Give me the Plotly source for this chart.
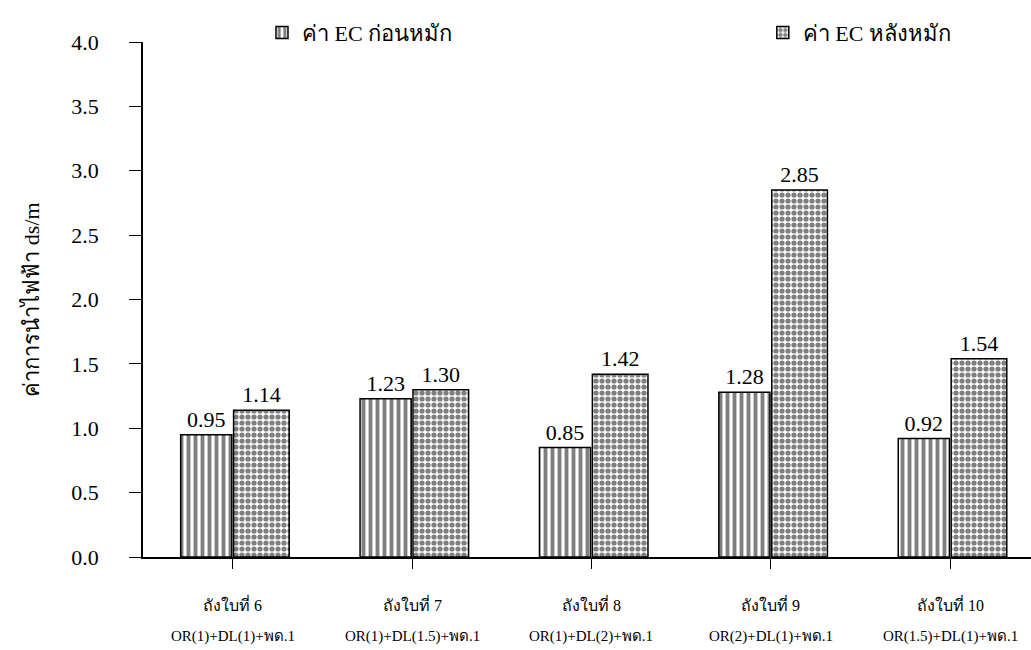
import plotly.graph_objects as go

# Tank labels and treatment formulas shown under each group
tanks = ["ถังใบที่ 6", "ถังใบที่ 7", "ถังใบที่ 8", "ถังใบที่ 9", "ถังใบที่ 10"]
formulas = ["OR(1)+DL(1)+พด.1", "OR(1)+DL(1.5)+พด.1", "OR(1)+DL(2)+พด.1",
            "OR(2)+DL(1)+พด.1", "OR(1.5)+DL(1)+พด.1"]

# EC values (ds/m)
ec_before = [0.95, 1.23, 0.85, 1.28, 0.92]
ec_after = [1.14, 1.30, 1.42, 2.85, 1.54]

series_names = ["ค่า EC ก่อนหมัก", "ค่า EC หลังหมัก"]
y_ticks = [0.0, 0.5, 1.0, 1.5, 2.0, 2.5, 3.0, 3.5, 4.0]

SERIF = "Liberation Serif, Times New Roman, serif"
xpos = list(range(len(tanks)))

fig = go.Figure()
fig.add_trace(go.Bar(
    x=xpos, y=ec_before, name=series_names[0], legend="legend",
    width=0.285, offset=-0.29,
    marker=dict(color="white",
                line=dict(color="black", width=1.5),
                pattern=dict(shape="|", fgcolor="black", bgcolor="white",
                             size=7, solidity=0.55, fillmode="overlay")),
    text=[f"{v:.2f}" for v in ec_before], textposition="outside",
    textfont=dict(family=SERIF, size=22, color="black"),
    cliponaxis=False,
))
fig.add_trace(go.Bar(
    x=xpos, y=ec_after, name=series_names[1], legend="legend2",
    width=0.31, offset=0.005,
    marker=dict(color="white",
                line=dict(color="black", width=1.5),
                pattern=dict(shape=".", fgcolor="black", bgcolor="white",
                             size=6, solidity=0.6, fillmode="overlay")),
    text=[f"{v:.2f}" for v in ec_after], textposition="outside",
    textfont=dict(family=SERIF, size=22, color="black"),
    cliponaxis=False,
))

# Two-line category labels beneath the x axis
annotations = []
for i, (t, f) in enumerate(zip(tanks, formulas)):
    annotations.append(dict(x=i, y=-0.092, xref="x", yref="paper", text=t,
                            showarrow=False, yanchor="middle",
                            font=dict(family=SERIF, size=16, color="black")))
    annotations.append(dict(x=i, y=-0.155, xref="x", yref="paper", text=f,
                            showarrow=False, yanchor="middle",
                            font=dict(family=SERIF, size=15, color="black")))

legend_style = dict(orientation="h", y=1.018, xanchor="left", yanchor="middle",
                    font=dict(family=SERIF, size=22, color="black"),
                    bgcolor="rgba(0,0,0,0)")

fig.update_layout(
    width=1031, height=650,
    margin=dict(l=143, r=0, t=42, b=93),
    paper_bgcolor="white", plot_bgcolor="white",
    barmode="overlay",
    showlegend=True,
    legend=dict(x=0.134, **legend_style),
    legend2=dict(x=0.698, **legend_style),
    annotations=annotations,
    xaxis=dict(range=[-0.5, 4.45], tickmode="array", tickvals=xpos,
               ticktext=[""] * len(xpos), tickson="boundaries",
               ticks="outside", ticklen=10, tickcolor="black", tickwidth=1,
               showline=True, linecolor="black", linewidth=1.5,
               showgrid=False, zeroline=False, fixedrange=True),
    yaxis=dict(range=[0, 4], tickmode="array", tickvals=y_ticks,
               ticktext=[f"{v:.1f}" for v in y_ticks],
               ticks="outside", ticklen=12, tickcolor="black", tickwidth=1,
               ticklabelstandoff=26,
               showline=True, linecolor="black", linewidth=1.5,
               showgrid=False, zeroline=False,
               tickfont=dict(family=SERIF, size=22, color="black"),
               title=dict(text="ค่าการนำไฟฟ้า ds/m", standoff=26,
                          font=dict(family=SERIF, size=22, color="black"))),
)

fig.write_html("out.html")
